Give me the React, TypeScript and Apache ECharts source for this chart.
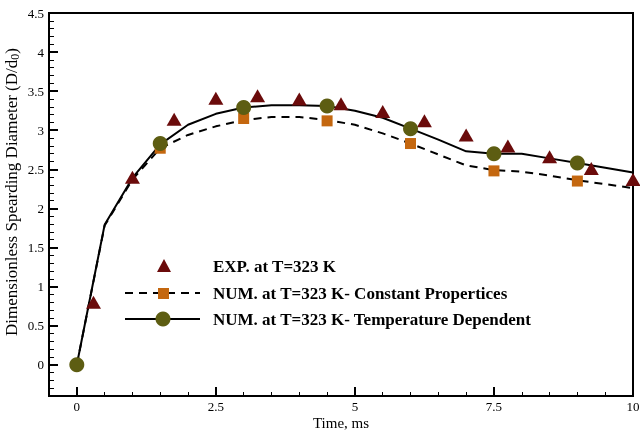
import React, { useEffect, useRef } from "react";
import * as echarts from "echarts";

// experiment (triangles)
const expX = [0.3, 1, 1.75, 2.5, 3.25, 4, 4.75, 5.5, 6.25, 7, 7.75, 8.5, 9.25, 10];
const expY = [0.8, 2.4, 3.14, 3.41, 3.44, 3.4, 3.34, 3.24, 3.12, 2.94, 2.8, 2.66, 2.51, 2.37];

// numerical curves
const lineX = [0, 0.5, 1, 1.5, 2, 2.5, 3, 3.5, 4, 4.5, 5, 5.5, 6, 6.5, 7, 7.5, 8, 8.5, 9, 9.5, 10];
const tempDep = [0, 1.79, 2.39, 2.82, 3.07, 3.21, 3.29, 3.32, 3.32, 3.31, 3.25, 3.16, 3.02, 2.88, 2.73, 2.7, 2.7, 2.64, 2.58, 2.52, 2.46];
const constProp = [0, 1.78, 2.37, 2.77, 2.94, 3.05, 3.13, 3.17, 3.17, 3.13, 3.07, 2.96, 2.83, 2.69, 2.55, 2.49, 2.47, 2.42, 2.36, 2.31, 2.26];

// markers on the numerical curves
const markX = [1.5, 3, 4.5, 6, 7.5, 9];
const tempMarks = [2.83, 3.29, 3.31, 3.02, 2.7, 2.58];
const constMarks = [2.77, 3.15, 3.12, 2.83, 2.48, 2.35];

const xMajorTicks = [0, 2.5, 5, 7.5, 10];
const yMajorTicks = [0, 0.5, 1, 1.5, 2, 2.5, 3, 3.5, 4, 4.5];

const xTitle = "Time, ms";
const legendNames = [
  "EXP. at T=323 K",
  "NUM. at T=323 K- Constant Propertices",
  "NUM. at T=323 K- Temperature Dependent",
];

const FONT = "'Liberation Serif', 'Times New Roman', serif";
const RED = "#6b0b0b";
const ORANGE = "#c4670f";
const OLIVE = "#5d5d12";

const App: React.FC = () => {
  const chartRef = useRef<HTMLDivElement>(null);

  useEffect(() => {
    const chart = echarts.init(chartRef.current, null, { renderer: "svg" });
    const label = { color: "#000", fontFamily: FONT, fontSize: 13 };
    const legendText = (y: number, text: string) => ({
      type: "text",
      x: 213,
      y,
      style: { text, fill: "#000", font: `bold 17px ${FONT}`, verticalAlign: "middle" },
    });

    chart.setOption({
      animation: false,
      grid: {
        left: 49, top: 13, width: 584, height: 383, show: true,
        borderColor: "#000", borderWidth: 2, outerBoundsMode: "none",
      },
      xAxis: [
        {
          type: "value", min: -0.5, max: 10, position: "bottom",
          axisLine: { onZero: false, lineStyle: { color: "#000", width: 2 } },
          axisTick: { inside: true, length: 9, customValues: xMajorTicks, lineStyle: { color: "#000", width: 2 } },
          axisLabel: { ...label, margin: 4, customValues: xMajorTicks },
          splitLine: { show: false },
        },
        {
          type: "value", min: -0.5, max: 10, interval: 0.5, position: "bottom",
          axisLine: { show: false, onZero: false },
          axisTick: { inside: true, length: 4, lineStyle: { color: "#000", width: 1 } },
          axisLabel: { show: false },
          splitLine: { show: false },
        },
      ],
      yAxis: [
        {
          type: "value", min: -0.4, max: 4.5, position: "left",
          axisLine: { onZero: false, lineStyle: { color: "#000", width: 2 } },
          axisTick: { inside: true, length: 9, customValues: yMajorTicks, lineStyle: { color: "#000", width: 2 } },
          axisLabel: { ...label, margin: 5, customValues: yMajorTicks },
          splitLine: { show: false },
        },
        {
          type: "value", min: -0.4, max: 4.5, interval: 0.1, position: "left",
          axisLine: { show: false, onZero: false },
          axisTick: { inside: true, length: 5, lineStyle: { color: "#000", width: 1 } },
          axisLabel: { show: false },
          splitLine: { show: false },
        },
      ],
      series: [
        {
          type: "line", data: lineX.map((x, i) => [x, constProp[i]]),
          symbol: "none", lineStyle: { color: "#000", width: 2, type: [8, 6] }, z: 2,
        },
        {
          type: "line", data: lineX.map((x, i) => [x, tempDep[i]]),
          symbol: "none", lineStyle: { color: "#000", width: 2 }, z: 2,
        },
        {
          type: "scatter", data: markX.map((x, i) => [x, constMarks[i]]),
          symbol: "rect", symbolSize: 11, itemStyle: { color: ORANGE, opacity: 1 }, z: 3,
        },
        {
          type: "scatter", data: [[0, 0], ...markX.map((x, i) => [x, tempMarks[i]])],
          symbol: "circle", symbolSize: 15, itemStyle: { color: OLIVE, opacity: 1 }, z: 4,
        },
        {
          type: "scatter", data: expX.map((x, i) => [x, expY[i]]),
          symbol: "triangle", symbolSize: [15, 13], itemStyle: { color: RED, opacity: 1 }, z: 3,
        },
      ],
      graphic: [
        {
          type: "text", x: 11, y: 192, rotation: Math.PI / 2,
          style: {
            text: "{a|Dimensionless Spearding Diameter (D/d}{s|0}{a|)}",
            align: "center", verticalAlign: "middle",
            rich: {
              a: { fontFamily: FONT, fontSize: 17, fill: "#000" },
              s: { fontFamily: FONT, fontSize: 12, fill: "#000", verticalAlign: "bottom", padding: [7, 0, 0, 0] },
            },
          },
        },
        {
          type: "text", x: 341, y: 423,
          style: { text: xTitle, fill: "#000", font: `15px ${FONT}`, align: "center", verticalAlign: "middle" },
        },
        { type: "polygon", shape: { points: [[157, 272], [171, 272], [164, 259]] }, style: { fill: RED } },
        { type: "line", shape: { x1: 125, y1: 293, x2: 200, y2: 293 }, style: { stroke: "#000", lineWidth: 2, lineDash: [8, 6] } },
        { type: "rect", shape: { x: 158, y: 288, width: 11, height: 11 }, style: { fill: ORANGE } },
        { type: "line", shape: { x1: 125, y1: 319, x2: 200, y2: 319 }, style: { stroke: "#000", lineWidth: 2 } },
        { type: "circle", shape: { cx: 163, cy: 319, r: 7.5 }, style: { fill: OLIVE } },
        legendText(266, legendNames[0]),
        legendText(293, legendNames[1]),
        legendText(319, legendNames[2]),
      ],
    });

    return () => {
      chart.dispose();
    };
  }, []);

  return <div ref={chartRef} style={{ position: "fixed", left: 0, top: 0, width: 640, height: 432 }}></div>;
};

export default App;
